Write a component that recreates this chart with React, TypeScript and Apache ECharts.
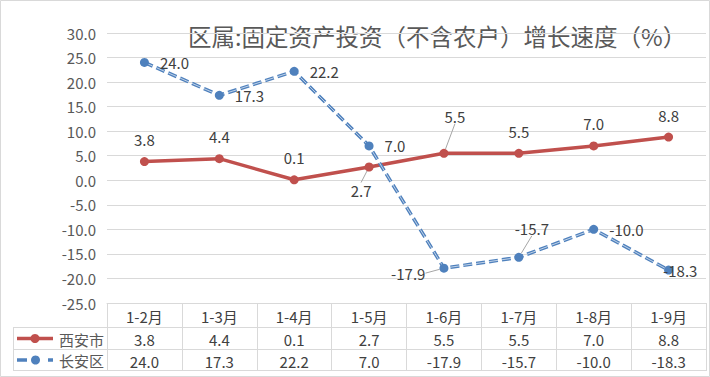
import React, { useEffect, useRef } from "react";
import * as echarts from "echarts";

const categories = ["1-2月", "1-3月", "1-4月", "1-5月", "1-6月", "1-7月", "1-8月", "1-9月"];
const xianValues = [3.8, 4.4, 0.1, 2.7, 5.5, 5.5, 7.0, 8.8];
const changanValues = [24.0, 17.3, 22.2, 7.0, -17.9, -15.7, -10.0, -18.3];
const seriesNames = ["西安市", "长安区"];
const titleText = "区属:固定资产投资（不含农户）增长速度（%）";

const FONT = "'Noto Sans CJK SC', 'Microsoft YaHei', sans-serif";
const RED = "#C0504D";
const BLUE = "#4F81BD";
const GRIDC = "#d9d9d9";
const DASH = [9, 4];

export default function App() {
  const ref = useRef<HTMLDivElement>(null);
  useEffect(() => {
    document.body.style.margin = "0";
    const chart = echarts.init(ref.current!, undefined, { renderer: "svg" });
    const baseLabel = { fontSize: 15, color: "#404040", fontFamily: FONT };
    const fmt = (p: any) => Number(p.value).toFixed(1);
    const option: any = {
      animation: false,
      textStyle: { fontFamily: FONT },
      grid: { left: 107, right: 4, top: 33, bottom: 74 },
      xAxis: [
        {
          type: "category",
          data: categories,
          position: "bottom",
          axisLine: { onZero: false, lineStyle: { color: GRIDC, width: 1 } },
          axisTick: { show: true, interval: 0, length: 68, lineStyle: { color: GRIDC } },
          axisLabel: { interval: 0, margin: 6, fontSize: 15, color: "#404040", fontFamily: FONT },
        },
        {
          type: "category",
          data: categories,
          position: "bottom",
          axisLine: { show: false, onZero: false },
          axisTick: { show: false },
          axisLabel: {
            interval: 0,
            margin: 29,
            fontSize: 15,
            color: "#404040",
            fontFamily: FONT,
            formatter: (_v: any, i: number) => xianValues[i].toFixed(1),
          },
        },
        {
          type: "category",
          data: categories,
          position: "bottom",
          axisLine: { show: false, onZero: false },
          axisTick: { show: false },
          axisLabel: {
            interval: 0,
            margin: 51,
            fontSize: 15,
            color: "#404040",
            fontFamily: FONT,
            formatter: (_v: any, i: number) => changanValues[i].toFixed(1),
          },
        },
      ],
      yAxis: {
        type: "value",
        min: -25,
        max: 30,
        interval: 5,
        axisLine: { show: false },
        axisTick: { show: false },
        splitLine: { lineStyle: { color: GRIDC } },
        axisLabel: {
          margin: 11,
          fontSize: 15,
          color: "#595959",
          fontFamily: FONT,
          formatter: (v: number) => v.toFixed(1),
        },
      },
      series: [
        {
          name: seriesNames[0],
          type: "line",
          data: xianValues.map((v, i) =>
            i === 3 || i === 4 ? { value: v, labelLine: { show: true } } : { value: v }
          ),
          color: RED,
          lineStyle: { color: RED, width: 3.5 },
          symbol: "circle",
          symbolSize: 9,
          itemStyle: { color: RED },
          label: { show: true, position: "top", distance: 10, formatter: fmt, ...baseLabel },
          labelLine: { lineStyle: { color: "#a6a6a6", width: 1 } },
          labelLayout: (p: any) => {
            if (p.dataIndex === 3) return { dx: -8, dy: 45 };
            if (p.dataIndex === 4) return { dx: 11, dy: -15 };
            return {};
          },
          z: 2,
        },
        {
          name: seriesNames[1],
          type: "line",
          data: changanValues,
          showSymbol: false,
          symbol: "none",
          lineStyle: { color: BLUE, width: 3.5, type: DASH },
          silent: true,
          z: 3,
        },
        {
          name: seriesNames[1] + "-inner",
          type: "line",
          data: changanValues,
          showSymbol: false,
          symbol: "none",
          lineStyle: { color: "rgba(255,255,255,0.65)", width: 1, type: DASH },
          silent: true,
          z: 3,
        },
        {
          name: seriesNames[1] + "-points",
          type: "line",
          data: changanValues.map((v, i) => {
            if (i === 4) return { value: v, label: { position: "left", distance: 14 }, labelLine: { show: true } };
            if (i === 5) return { value: v, label: { position: "top", distance: 10 }, labelLine: { show: true } };
            return { value: v };
          }),
          lineStyle: { width: 0, opacity: 0 },
          symbol: "circle",
          symbolSize: 9,
          itemStyle: { color: BLUE },
          label: { show: true, position: "right", distance: 11, formatter: fmt, ...baseLabel },
          labelLine: { lineStyle: { color: "#a6a6a6", width: 1 } },
          labelLayout: (p: any) => {
            if (p.dataIndex === 4) return { dy: 5 };
            if (p.dataIndex === 5) return { dx: 13, dy: -7 };
            if (p.dataIndex === 7) return { dx: -21 };
            return {};
          },
          z: 4,
        },
      ],
      graphic: [
        {
          type: "rect",
          shape: { x: 0.5, y: 0.5, width: 709, height: 376 },
          style: { fill: "none", stroke: GRIDC, lineWidth: 1 },
          silent: true,
        },
        {
          type: "text",
          x: 188,
          y: 36,
          style: {
            text: titleText,
            fontSize: 23.5,
            fill: "#595959",
            fontFamily: FONT,
            align: "left",
            verticalAlign: "middle",
          },
        },
        { type: "line", shape: { x1: 13, y1: 327.5, x2: 706, y2: 327.5 }, style: { stroke: GRIDC, lineWidth: 1 } },
        { type: "line", shape: { x1: 13, y1: 349.5, x2: 706, y2: 349.5 }, style: { stroke: GRIDC, lineWidth: 1 } },
        { type: "line", shape: { x1: 13, y1: 370.5, x2: 706, y2: 370.5 }, style: { stroke: GRIDC, lineWidth: 1 } },
        { type: "line", shape: { x1: 13.5, y1: 327.5, x2: 13.5, y2: 370.5 }, style: { stroke: GRIDC, lineWidth: 1 } },
        // legend red
        { type: "line", shape: { x1: 17, y1: 338.5, x2: 53, y2: 338.5 }, style: { stroke: RED, lineWidth: 3.5 } },
        { type: "circle", shape: { cx: 35, cy: 338.5, r: 4.5 }, style: { fill: RED } },
        {
          type: "text",
          x: 59,
          y: 339,
          style: { text: seriesNames[0], fontSize: 15, fill: "#595959", fontFamily: FONT, verticalAlign: "middle" },
        },
        // legend blue
        { type: "line", shape: { x1: 17, y1: 360, x2: 27, y2: 360 }, style: { stroke: BLUE, lineWidth: 3.5 } },
        { type: "circle", shape: { cx: 35.5, cy: 360, r: 4.5 }, style: { fill: BLUE } },
        { type: "line", shape: { x1: 48, y1: 360, x2: 53, y2: 360 }, style: { stroke: BLUE, lineWidth: 3.5 } },
        {
          type: "text",
          x: 59,
          y: 360.5,
          style: { text: seriesNames[1], fontSize: 15, fill: "#595959", fontFamily: FONT, verticalAlign: "middle" },
        },
      ],
    };
    chart.setOption(option);
    return () => chart.dispose();
  }, []);
  return <div ref={ref} style={{ width: 710, height: 377 }} />;
}
